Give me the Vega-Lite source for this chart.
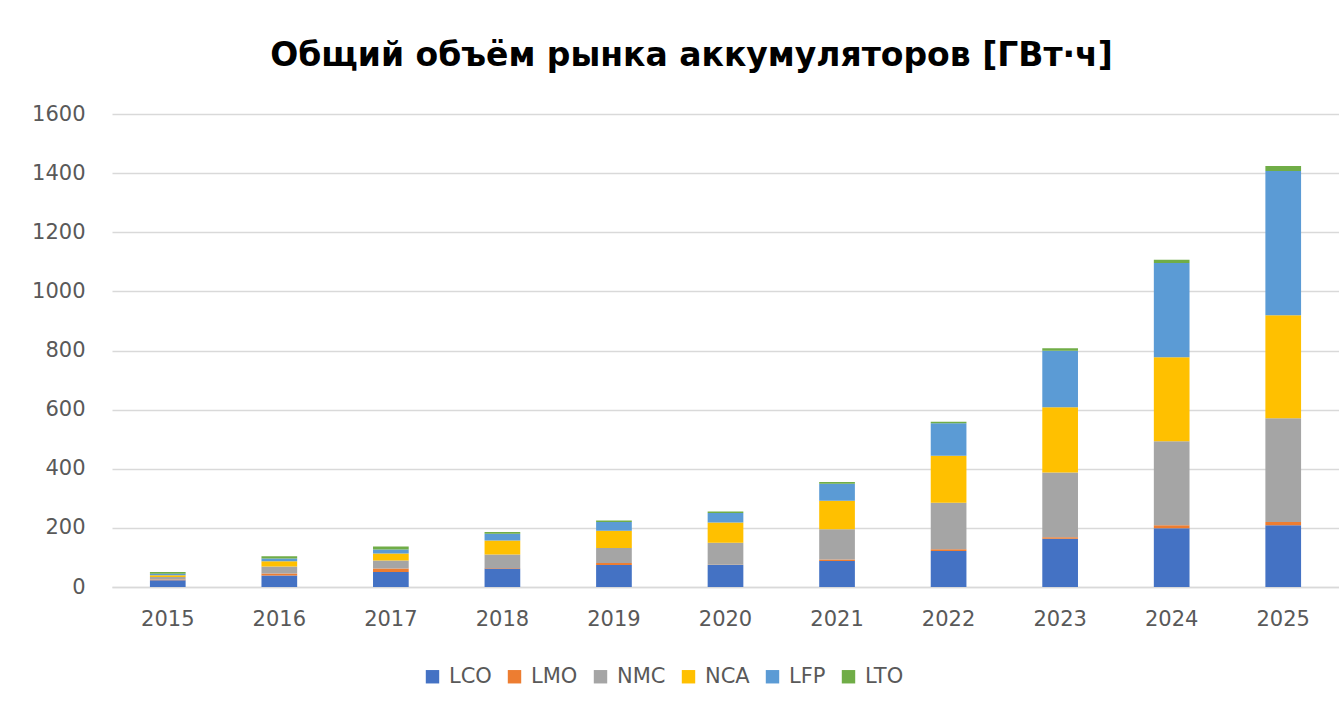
{
  "$schema": "https://vega.github.io/schema/vega-lite/v6.json",
  "autosize": "none",
  "width": 1227,
  "height": 473,
  "padding": {"left": 112, "top": 114, "right": 0, "bottom": 123},
  "background": "white",
  "title": {
    "text": "Общий объём рынка аккумуляторов [ГВт·ч]",
    "font": "DejaVu Sans",
    "fontSize": 33,
    "fontWeight": "bold",
    "color": "#000000",
    "anchor": "middle",
    "dx": -34,
    "offset": 30
  },
  "data": {
    "values": [
      {"year": "2015", "type": "LCO", "k": 1, "gwh": 23},
      {"year": "2015", "type": "LMO", "k": 2, "gwh": 2},
      {"year": "2015", "type": "NMC", "k": 3, "gwh": 9},
      {"year": "2015", "type": "NCA", "k": 4, "gwh": 6},
      {"year": "2015", "type": "LFP", "k": 5, "gwh": 5},
      {"year": "2015", "type": "LTO", "k": 6, "gwh": 6},
      {"year": "2016", "type": "LCO", "k": 1, "gwh": 39},
      {"year": "2016", "type": "LMO", "k": 2, "gwh": 7},
      {"year": "2016", "type": "NMC", "k": 3, "gwh": 23},
      {"year": "2016", "type": "NCA", "k": 4, "gwh": 18},
      {"year": "2016", "type": "LFP", "k": 5, "gwh": 9},
      {"year": "2016", "type": "LTO", "k": 6, "gwh": 8},
      {"year": "2017", "type": "LCO", "k": 1, "gwh": 51},
      {"year": "2017", "type": "LMO", "k": 2, "gwh": 12},
      {"year": "2017", "type": "NMC", "k": 3, "gwh": 27},
      {"year": "2017", "type": "NCA", "k": 4, "gwh": 23},
      {"year": "2017", "type": "LFP", "k": 5, "gwh": 14},
      {"year": "2017", "type": "LTO", "k": 6, "gwh": 10},
      {"year": "2018", "type": "LCO", "k": 1, "gwh": 63},
      {"year": "2018", "type": "LMO", "k": 2, "gwh": 1},
      {"year": "2018", "type": "NMC", "k": 3, "gwh": 46},
      {"year": "2018", "type": "NCA", "k": 4, "gwh": 47},
      {"year": "2018", "type": "LFP", "k": 5, "gwh": 23},
      {"year": "2018", "type": "LTO", "k": 6, "gwh": 6},
      {"year": "2019", "type": "LCO", "k": 1, "gwh": 74},
      {"year": "2019", "type": "LMO", "k": 2, "gwh": 7},
      {"year": "2019", "type": "NMC", "k": 3, "gwh": 51},
      {"year": "2019", "type": "NCA", "k": 4, "gwh": 58},
      {"year": "2019", "type": "LFP", "k": 5, "gwh": 30},
      {"year": "2019", "type": "LTO", "k": 6, "gwh": 5},
      {"year": "2020", "type": "LCO", "k": 1, "gwh": 74},
      {"year": "2020", "type": "LMO", "k": 2, "gwh": 1},
      {"year": "2020", "type": "NMC", "k": 3, "gwh": 75},
      {"year": "2020", "type": "NCA", "k": 4, "gwh": 68},
      {"year": "2020", "type": "LFP", "k": 5, "gwh": 32},
      {"year": "2020", "type": "LTO", "k": 6, "gwh": 5},
      {"year": "2021", "type": "LCO", "k": 1, "gwh": 88},
      {"year": "2021", "type": "LMO", "k": 2, "gwh": 5},
      {"year": "2021", "type": "NMC", "k": 3, "gwh": 102},
      {"year": "2021", "type": "NCA", "k": 4, "gwh": 97},
      {"year": "2021", "type": "LFP", "k": 5, "gwh": 57},
      {"year": "2021", "type": "LTO", "k": 6, "gwh": 6},
      {"year": "2022", "type": "LCO", "k": 1, "gwh": 122},
      {"year": "2022", "type": "LMO", "k": 2, "gwh": 6},
      {"year": "2022", "type": "NMC", "k": 3, "gwh": 157},
      {"year": "2022", "type": "NCA", "k": 4, "gwh": 159},
      {"year": "2022", "type": "LFP", "k": 5, "gwh": 110},
      {"year": "2022", "type": "LTO", "k": 6, "gwh": 5},
      {"year": "2023", "type": "LCO", "k": 1, "gwh": 163},
      {"year": "2023", "type": "LMO", "k": 2, "gwh": 5},
      {"year": "2023", "type": "NMC", "k": 3, "gwh": 219},
      {"year": "2023", "type": "NCA", "k": 4, "gwh": 221},
      {"year": "2023", "type": "LFP", "k": 5, "gwh": 191},
      {"year": "2023", "type": "LTO", "k": 6, "gwh": 9},
      {"year": "2024", "type": "LCO", "k": 1, "gwh": 199},
      {"year": "2024", "type": "LMO", "k": 2, "gwh": 10},
      {"year": "2024", "type": "NMC", "k": 3, "gwh": 284},
      {"year": "2024", "type": "NCA", "k": 4, "gwh": 284},
      {"year": "2024", "type": "LFP", "k": 5, "gwh": 319},
      {"year": "2024", "type": "LTO", "k": 6, "gwh": 11},
      {"year": "2025", "type": "LCO", "k": 1, "gwh": 209},
      {"year": "2025", "type": "LMO", "k": 2, "gwh": 11},
      {"year": "2025", "type": "NMC", "k": 3, "gwh": 351},
      {"year": "2025", "type": "NCA", "k": 4, "gwh": 348},
      {"year": "2025", "type": "LFP", "k": 5, "gwh": 488},
      {"year": "2025", "type": "LTO", "k": 6, "gwh": 17}
    ]
  },
  "mark": {"type": "bar"},
  "encoding": {
    "x": {
      "field": "year",
      "type": "ordinal",
      "scale": {"paddingInner": 0.68, "paddingOuter": 0.34},
      "axis": {
        "title": null,
        "labelAngle": 0,
        "labelFont": "DejaVu Sans",
        "labelFontSize": 21,
        "labelColor": "#595959",
        "labelPadding": 21,
        "ticks": false,
        "domain": true,
        "domainColor": "#d9d9d9",
        "domainWidth": 1.5,
        "grid": false
      }
    },
    "y": {
      "field": "gwh",
      "type": "quantitative",
      "stack": "zero",
      "scale": {"domain": [0, 1600], "nice": false},
      "axis": {
        "title": null,
        "values": [0, 200, 400, 600, 800, 1000, 1200, 1400, 1600],
        "format": "d",
        "labelFont": "DejaVu Sans",
        "labelFontSize": 21,
        "labelColor": "#595959",
        "labelPadding": 27,
        "ticks": false,
        "domain": false,
        "grid": true,
        "gridColor": "#d9d9d9",
        "gridWidth": 1.5
      }
    },
    "color": {
      "field": "type",
      "type": "nominal",
      "sort": ["LCO", "LMO", "NMC", "NCA", "LFP", "LTO"],
      "scale": {
        "domain": ["LCO", "LMO", "NMC", "NCA", "LFP", "LTO"],
        "range": ["#4472C4", "#ED7D31", "#A5A5A5", "#FFC000", "#5B9BD5", "#70AD47"]
      },
      "legend": {
        "title": null,
        "orient": "none",
        "direction": "horizontal",
        "legendX": 310,
        "legendY": 552,
        "padding": 0,
        "symbolType": "square",
        "symbolSize": 180,
        "symbolStrokeWidth": 0,
        "symbolOpacity": 1,
        "labelFont": "DejaVu Sans",
        "labelFontSize": 21,
        "labelColor": "#595959",
        "labelOffset": 6,
        "columnPadding": 12
      }
    },
    "order": {"field": "k", "type": "quantitative", "sort": "ascending"}
  },
  "config": {
    "view": {"stroke": null}
  }
}
